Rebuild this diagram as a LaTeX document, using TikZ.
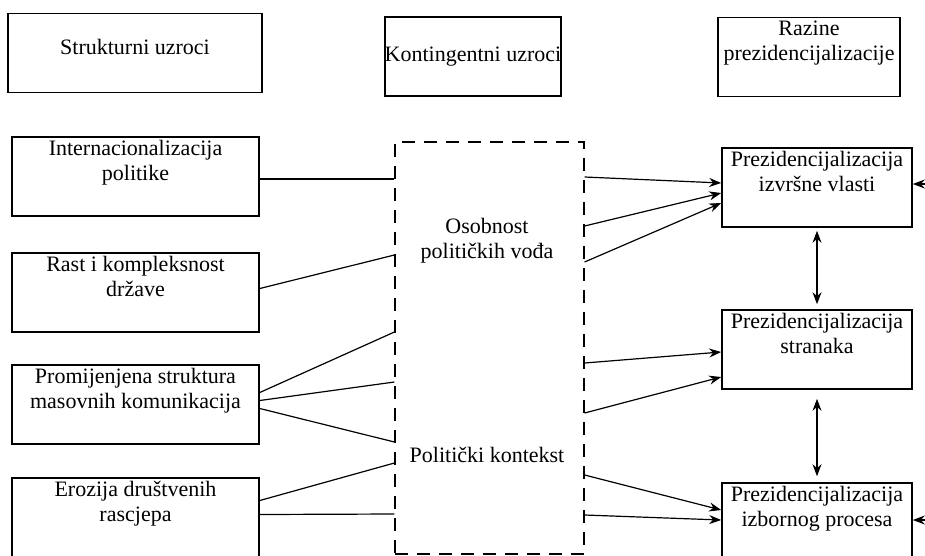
\documentclass[tikz,border=0pt]{standalone}
\usepackage{fontspec}
\setmainfont{Liberation Serif}
\usepackage{tikz}
\usetikzlibrary{arrows.meta,positioning,calc}
\tikzset{
  box/.style={draw, line width=1.6pt, align=center, inner sep=0pt,
    minimum width=#1, minimum height=79pt},
  box/.default=247pt,
  ctxbox/.style={draw, line width=1.2pt, dash pattern=on 13pt off 9pt,
    minimum width=189pt, minimum height=412pt},
  link/.style={line width=1.2pt},
  arr/.style={line width=1.2pt, -{Stealth[length=12pt,width=9pt]}},
  dbl/.style={line width=1.2pt, {Stealth[length=12pt,width=9pt]}-{Stealth[length=12pt,width=9pt]}}
}
\newcommand{\txt}[0]{\fontsize{22}{25}\selectfont}
\begin{document}
\begin{tikzpicture}[x=1pt,y=-1pt,font=\txt]
                    \useasboundingbox[fill=white] (0,0) rectangle (925,555);
                    % header row
                    \node[box=254pt, text depth=12pt] (struk) at (135,53) {Strukturni uzroci};
                    \node[box=166pt] (konting) at (473,56.5) {Kontingentni uzroci};
                    \node[box=182pt] (razine) at (809,57) {Razine\\prezidencijalizacije\\ \strut};
                    % structural causes
                    \node[box] (intl) at (135.5,176.5) {Internacionalizacija\\politike\\ \strut};
                    \node[box] (rast) at (135.5,292.5) {Rast i kompleksnost\\države\\ \strut};
                    \node[box] (masov) at (135.5,404.5) {Promijenjena struktura\\masovnih komunikacija\\ \strut};
                    \node[box] (eroz) at (135.5,517.5) {Erozija društvenih\\rascjepa\\ \strut};
                    % contingent causes
                    \node[ctxbox] (ctx) at (489.5,348) {};
                    \node[align=center] (osob) at (487,241) {Osobnost\\političkih vođa};
                    \node (kontekst) at (487,455) {Politički kontekst};
                    % levels
                    \node[box=190pt] (izvrs) at (817,187.5) {Prezidencijalizacija\\izvršne vlasti\\ \strut};
                    \node[box=190pt] (stran) at (817,349.5) {Prezidencijalizacija\\stranaka\\ \strut};
                    \node[box=190pt] (izbor) at (817,522.5) {Prezidencijalizacija\\izbornog procesa\\ \strut};
                    \coordinate (out1) at (940,184);
                    \coordinate (out2) at (940,520);
                    % left links
                    \draw[link] (intl.east |- 0,179) -- (ctx.west |- 0,179);
                    \draw[link] ([yshift=4pt]rast.east) -- (ctx.west |- 0,255);
                    \draw[link] ([yshift=12pt]masov.east) -- (ctx.west |- 0,332);
                    \draw[link] ([yshift=4pt]masov.east) -- (ctx.west |- 0,382);
                    \draw[link] ([yshift=-4pt]masov.east) -- (ctx.west |- 0,442);
                    \draw[link] ([yshift=17pt]eroz.east) -- (ctx.west |- 0,463);
                    \draw[link] ([yshift=3pt]eroz.east) -- (ctx.west |- 0,514);
                    % right arrows
                    \draw[arr] (ctx.east |- 0,177) -- ([yshift=4.5pt]izvrs.west);
                    \draw[arr] (ctx.east |- 0,226) -- ([yshift=-5.5pt]izvrs.west);
                    \draw[arr] (ctx.east |- 0,262) -- ([yshift=-15.5pt]izvrs.west);
                    \draw[arr] (ctx.east |- 0,363) -- ([yshift=-2.5pt]stran.west);
                    \draw[arr] (ctx.east |- 0,413) -- ([yshift=-27.5pt]stran.west);
                    \draw[arr] (ctx.east |- 0,475) -- ([yshift=12.5pt]izbor.west);
                    \draw[arr] (ctx.east |- 0,515) -- ([yshift=2.5pt]izbor.west);
                    \draw[arr] (out1) -- (izvrs.east |- out1);
                    \draw[arr] (out2) -- (izbor.east |- out2);
                    \draw[dbl, shorten <=3pt, shorten >=5pt] (izvrs.south) -- (stran.north);
                    \draw[dbl, shorten <=9pt, shorten >=6pt] (stran.south) -- (izbor.north);
            \end{tikzpicture}
\end{document}
